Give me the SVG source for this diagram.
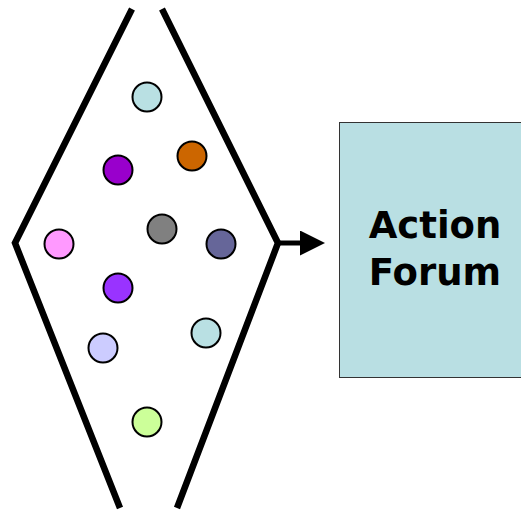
<svg xmlns="http://www.w3.org/2000/svg" width="521" height="511" viewBox="0 0 521 511">
<style>
.wall{fill:none;stroke:#000;stroke-width:6.5;stroke-linejoin:miter}
.dot{stroke:#000;stroke-width:2}
.lbl{font-family:"DejaVu Sans",Verdana,sans-serif;font-weight:bold;font-size:37px;fill:#000;text-anchor:middle}
</style>
<defs>
<marker id="ah" markerWidth="5" markerHeight="5" refX="0" refY="2.5" orient="auto" markerUnits="strokeWidth">
<path d="M0,0 L5,2.5 L0,5 Z" fill="#000"/>
</marker>
</defs>
<rect width="521" height="511" fill="#fff"/>
<g id="funnel">
<polyline class="wall" points="132,9 15,243 120,508"/>
<polyline class="wall" points="162,9 278,243 177,508"/>
</g>
<g id="dots">
<circle class="dot" cx="147" cy="97" r="14.5" fill="#B9E0E3"/>
<circle class="dot" cx="192" cy="156" r="14.5" fill="#CC6600"/>
<circle class="dot" cx="118" cy="170" r="14.5" fill="#9900CC"/>
<circle class="dot" cx="162" cy="229" r="14.5" fill="#808080"/>
<circle class="dot" cx="59" cy="244" r="14.5" fill="#FF99FF"/>
<circle class="dot" cx="221" cy="244" r="14.5" fill="#666699"/>
<circle class="dot" cx="118" cy="288" r="14.5" fill="#9933FF"/>
<circle class="dot" cx="206" cy="333" r="14.5" fill="#B9E0E3"/>
<circle class="dot" cx="103" cy="348" r="14.5" fill="#CCCCFF"/>
<circle class="dot" cx="147" cy="422" r="14.5" fill="#CCFF99"/>
</g>
<g id="connectors">
<line x1="278" y1="243" x2="300" y2="243" stroke="#000" stroke-width="5" marker-end="url(#ah)"/>
</g>
<g id="action-forum">
<rect x="339.5" y="122.5" width="182" height="255" fill="#B9DFE3" stroke="#333" stroke-width="1"/>
<text class="lbl" x="435" y="238">Action</text>
<text class="lbl" x="435" y="285">Forum</text>
</g>
</svg>
